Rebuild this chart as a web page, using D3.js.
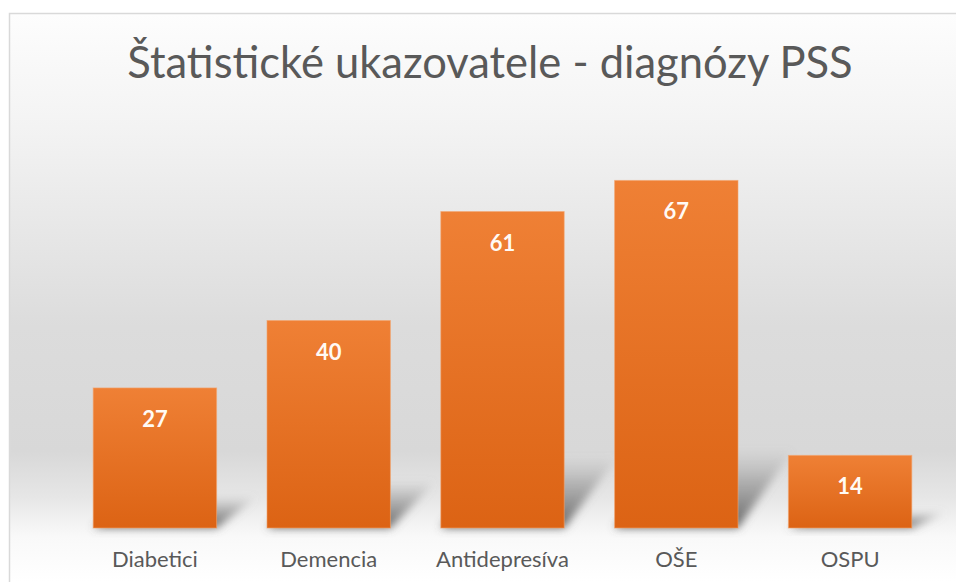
<!DOCTYPE html>
<html>
<head>
<meta charset="utf-8">
<script src="https://cdn.jsdelivr.net/npm/d3@7"></script>
<style>
  html, body { margin: 0; padding: 0; background: #fff; }
  svg { display: block; font-family: Lato, "Open Sans", sans-serif; }
</style>
</head>
<body>
<svg id="chart"></svg>
<script>
var categories = ["Diabetici", "Demencia", "Antidepresíva", "OŠE", "OSPU"];
var values = [27, 40, 61, 67, 14];
var title = "Štatistické ukazovatele - diagnózy PSS";

var width = 956,
    height = 582,
    plotLeft = 68,
    plotRight = 937,
    plotTop = 113,
    plotBottom = 528;

var svg = d3.select("#chart")
    .attr("width", width)
    .attr("height", height);

var defs = svg.append("defs");

// chart area background: white -> grey -> white
var bg = defs.append("linearGradient")
    .attr("id", "bg")
    .attr("gradientUnits", "userSpaceOnUse")
    .attr("x1", 0).attr("x2", 0)
    .attr("y1", 14).attr("y2", height);
[[0, "#fdfdfd"], [0.2, "#f3f3f3"], [0.55, "#dcdcdc"], [0.77, "#d8d8d8"], [0.85, "#e6e6e6"], [0.92, "#f9f9f9"], [1, "#ffffff"]]
    .forEach(function(s) {
        bg.append("stop").attr("offset", s[0]).attr("stop-color", s[1]);
    });

var barGrad = defs.append("linearGradient")
    .attr("id", "barGrad")
    .attr("x1", 0).attr("x2", 0)
    .attr("y1", 0).attr("y2", 1);
barGrad.append("stop").attr("offset", 0).attr("stop-color", "#ef8035");
barGrad.append("stop").attr("offset", 1).attr("stop-color", "#dc6314");

var shadowGrad = defs.append("linearGradient")
    .attr("id", "shadowGrad")
    .attr("x1", 0).attr("x2", 0)
    .attr("y1", 1).attr("y2", 0);
shadowGrad.append("stop").attr("offset", 0).attr("stop-color", "#5a5a5a").attr("stop-opacity", 0.95);
shadowGrad.append("stop").attr("offset", 0.6).attr("stop-color", "#7a7a7a").attr("stop-opacity", 0.5);
shadowGrad.append("stop").attr("offset", 1).attr("stop-color", "#909090").attr("stop-opacity", 0.05);

defs.append("filter")
    .attr("id", "blur")
    .attr("x", "-50%").attr("y", "-50%")
    .attr("width", "200%").attr("height", "200%")
  .append("feGaussianBlur")
    .attr("stdDeviation", 4);

svg.append("rect")
    .attr("x", 9.5)
    .attr("y", 13.5)
    .attr("width", width)
    .attr("height", height)
    .attr("fill", "url(#bg)")
    .attr("stroke", "#d9d9d9")
    .attr("stroke-width", 1.5);

var x = d3.scaleBand()
    .domain(categories)
    .range([plotLeft, plotRight])
    .paddingInner(0.29)
    .paddingOuter(0.145);

var y = d3.scaleLinear()
    .domain([0, 80])
    .range([plotBottom, plotTop]);

var data = categories.map(function(c, i) { return {label: c, value: values[i]}; });

// perspective shadows behind the bars
svg.append("g").selectAll("polygon")
    .data(data)
    .enter()
    .append("polygon")
    .attr("points", function(d) {
        var x0 = x(d.label), x1 = x0 + x.bandwidth();
        var h = plotBottom - y(d.value);
        var dy = 0.22 * h, dx = 30 + 0.07 * h;
        return [[x0, plotBottom], [x1, plotBottom], [x1 + dx, plotBottom - dy], [x0 + dx, plotBottom - dy]]
            .map(function(p) { return p.join(","); }).join(" ");
    })
    .attr("fill", "url(#shadowGrad)")
    .attr("filter", "url(#blur)");

svg.append("g").selectAll("rect")
    .data(data)
    .enter()
    .append("rect")
    .attr("x", function(d) { return x(d.label); })
    .attr("y", function(d) { return y(d.value); })
    .attr("width", x.bandwidth())
    .attr("height", function(d) { return plotBottom - y(d.value); })
    .attr("fill", "url(#barGrad)")
    .attr("stroke", "#f3a46c")
    .attr("stroke-opacity", 0.6)
    .attr("stroke-width", 1);

svg.append("g").selectAll("text")
    .data(data)
    .enter()
    .append("text")
    .attr("x", function(d) { return x(d.label) + x.bandwidth() / 2; })
    .attr("y", function(d) { return y(d.value) + 39; })
    .attr("text-anchor", "middle")
    .style("font-size", "22px")
    .style("font-weight", "bold")
    .style("fill", "#fffaf5")
    .text(function(d) { return d.value; });

var xAxis = svg.append("g")
    .attr("transform", "translate(0," + plotBottom + ")")
    .call(d3.axisBottom(x).tickSize(0).tickPadding(0));
xAxis.select(".domain").remove();
xAxis.selectAll("text")
    .attr("dy", null)
    .attr("y", 39)
    .style("font-family", "Lato, 'Open Sans', sans-serif")
    .style("font-size", "22px")
    .style("fill", "#595959");

svg.append("text")
    .attr("x", 490)
    .attr("y", 78)
    .attr("text-anchor", "middle")
    .style("font-size", "43.5px")
    .style("fill", "#595959")
    .text(title);
</script>
</body>
</html>
